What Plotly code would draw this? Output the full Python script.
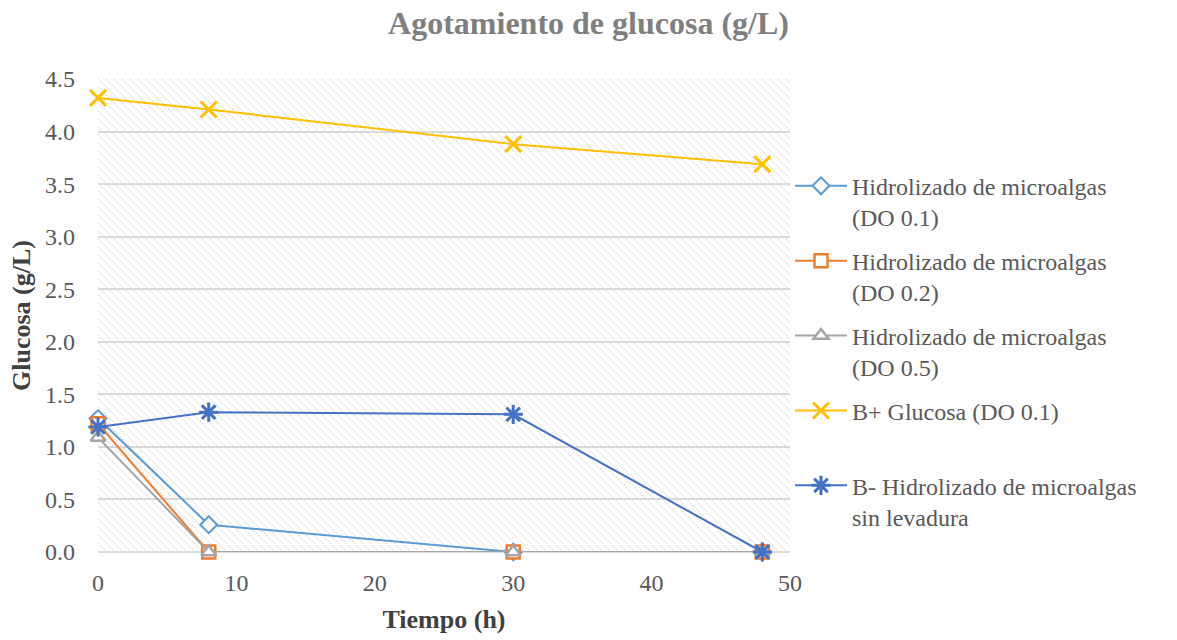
import plotly.graph_objects as go
import base64

tiempo = [0, 8, 30, 48]
do01 = [1.27, 0.26, 0.0, 0.0]
do02 = [1.22, 0.0, 0.0, 0.0]
do05 = [1.09, 0.0, 0.0, 0.0]
bplus = [4.32, 4.21, 3.88, 3.69]
bminus = [1.19, 1.33, 1.31, 0.0]

names = [
    "Hidrolizado de microalgas<br>(DO 0.1)",
    "Hidrolizado de microalgas<br>(DO 0.2)",
    "Hidrolizado de microalgas<br>(DO 0.5)",
    "B+ Glucosa (DO 0.1)<br> ",
    "B- Hidrolizado de microalgas<br>sin levadura",
]
colors = ["#5B9BD5", "#ED7D31", "#A5A5A5", "#FFC000", "#4472C4"]

FONT = "Liberation Serif"
fig = go.Figure()

specs = [
    (do01, "diamond", 13, "white", 2),
    (do02, "square", 13, "white", 2.5),
    (do05, "triangle-up", 13, "white", 2.5),
    (bplus, "x-thin-open", 16, None, 3),
    (bminus, "asterisk-open", 16, None, 3),
]
for i, ((ys, sym, sz, fillc, lw), nm, c) in enumerate(zip(specs, names, colors)):
    fig.add_trace(go.Scatter(
        x=tiempo, y=ys, name=nm, mode="lines+markers", legendgroup=f"g{i}",
        line=dict(color=c, width=2),
        marker=dict(symbol=sym, size=sz, color=fillc if fillc else c,
                    line=dict(color=c, width=lw)),
        cliponaxis=False,
    ))

W, H = 692, 473
svg = (
    f'<svg xmlns="http://www.w3.org/2000/svg" width="{W}" height="{H}" viewBox="0 0 {W} {H}" preserveAspectRatio="none">'
    '<defs><pattern id="p" width="8" height="8" patternUnits="userSpaceOnUse">'
    '<path d="M-2,-2 L10,10 M-2,6 L2,10 M6,-2 L10,2" stroke="#d9d9d9" stroke-width="1.3" stroke-dasharray="1.4,1.4"/>'
    '</pattern></defs>'
    f'<rect width="{W}" height="{H}" fill="white"/><rect width="{W}" height="{H}" fill="url(#p)"/></svg>'
)
src = "data:image/svg+xml;base64," + base64.b64encode(svg.encode()).decode()

fig.update_layout(
    width=1177, height=640,
    margin=dict(l=98, r=387, t=79, b=88),
    paper_bgcolor="white", plot_bgcolor="white",
    font=dict(family=FONT, size=24, color="#595959"),
    title=dict(text="<b>Agotamiento de glucosa (g/L)</b>", x=0.5, xref="container",
               xanchor="center", y=0.965, yanchor="middle",
               font=dict(family=FONT, size=32, color="#7F7F7F")),
    images=[dict(source=src, xref="paper", yref="paper", x=0, y=1, sizex=1, sizey=1,
                 xanchor="left", yanchor="top", sizing="stretch", layer="below")],
    xaxis=dict(range=[0, 50], dtick=10, showgrid=False, zeroline=False,
               showline=False, ticks="", ticklabelstandoff=14,
               tickfont=dict(family=FONT, size=24, color="#595959"),
               title=dict(text="<b>Tiempo (h)</b>", standoff=14,
                          font=dict(family=FONT, size=26, color="#404040"))),
    yaxis=dict(range=[0, 4.5], dtick=0.5, tickformat=".1f", showgrid=True,
               gridcolor="#D9D9D9", gridwidth=1.5, zeroline=True, zerolinecolor="#D9D9D9",
               zerolinewidth=1.5, ticks="", ticklabelstandoff=22,
               tickfont=dict(family=FONT, size=24, color="#595959"),
               title=dict(text="<b>Glucosa (g/L)</b>", standoff=6,
                          font=dict(family=FONT, size=26, color="#404040"))),
    legend=dict(x=1.0, xanchor="left", y=0.821, yanchor="top", valign="top",
                font=dict(family=FONT, size=24, color="#595959"),
                tracegroupgap=9.5, itemwidth=52, bgcolor="rgba(0,0,0,0)"),
    showlegend=True,
)

fig.write_html("out.html")
